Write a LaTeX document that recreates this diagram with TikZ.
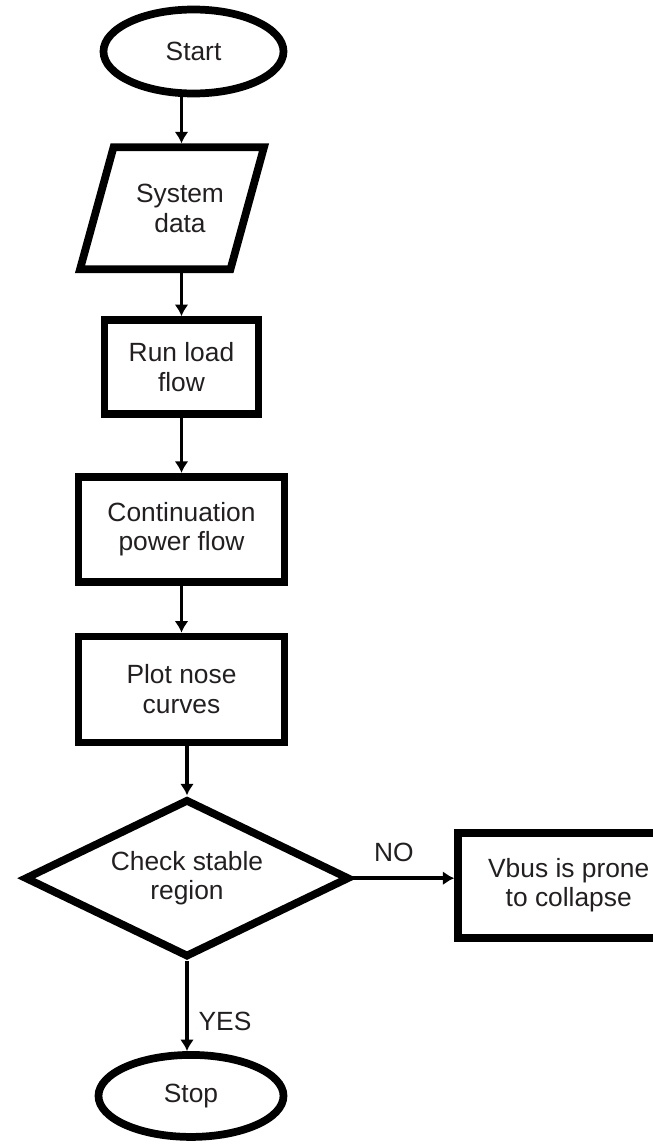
\documentclass[tikz,border=0pt]{standalone}
\usepackage{fontspec}
\setmainfont{Liberation Sans}
\usetikzlibrary{positioning,shapes.geometric,arrows.meta}
\definecolor{txtgray}{HTML}{231F20}

\begin{document}
\begin{tikzpicture}[
            every node/.style={font=\fontsize{15}{17}\selectfont, text=txtgray, align=center},
            term/.style={draw, ellipse, line width=4.4pt, inner sep=0pt, minimum width=3.6cm, minimum height=1.68cm},
            io/.style={draw, trapezium, trapezium left angle=74, trapezium right angle=106,
                trapezium stretches=true, line width=4.4pt, inner sep=3pt,
                minimum width=3.68cm, minimum height=2.44cm},
            proc/.style={draw, rectangle, line width=4.4pt, inner sep=0pt},
            test/.style={draw, diamond, aspect=2, line width=4.4pt, inner sep=0pt,
                minimum width=6.5cm, minimum height=3.16cm},
            arr/.style={-{Latex[length=2.3mm,width=2.8mm]}, line width=2pt}
        ]
            \useasboundingbox (0,0) rectangle (13.06,-22.92);
            \node[term] (start) at (3.87,-1.03) {Start};
            \node[io, below=0.92cm of start, xshift=-0.43cm,
                label={[xshift=0.16cm]center:System\\data}] (sys) {};
            \node[proc, minimum width=3.08cm, minimum height=1.88cm,
                below=0.86cm of sys, xshift=0.19cm] (run) {Run load\\flow};
            \node[proc, minimum width=4.12cm, minimum height=2.1cm,
                below=1.1cm of run] (cont) {Continuation\\power flow};
            \node[proc, minimum width=4.12cm, minimum height=2.12cm,
                below=0.94cm of cont] (plot) {Plot nose\\curves};
            \node[test, below=0.98cm of plot, xshift=0.11cm] (chk) {Check stable\\region};
            \node[proc, minimum width=4.42cm, minimum height=2.1cm,
                right=2.02cm of chk, yshift=-0.14cm] (vbus) {Vbus is prone\\to collapse};
            \node[term, minimum width=3.7cm, minimum height=1.64cm,
                below=1.8cm of chk, xshift=0.08cm] (stop) {Stop};
            % connectors
            \draw[arr] (start.south -| run.north) -- (sys.north -| run.north);
            \draw[arr] (sys.south -| run.north) -- (run.north);
            \draw[arr] (run.south) -- (run.south |- cont.north);
            \draw[arr] (cont.south) -- (cont.south |- plot.north);
            \draw[arr] (plot.south -| chk.north) -- (chk.north);
            \draw[arr] (chk.east) -- (chk.east -| vbus.west) node[pos=0.4, above=0.18cm] {NO};
            \draw[arr] (chk.south) -- (chk.south |- stop.north) node[pos=0.67, right=0.08cm] {YES};
        \end{tikzpicture}
\end{document}
